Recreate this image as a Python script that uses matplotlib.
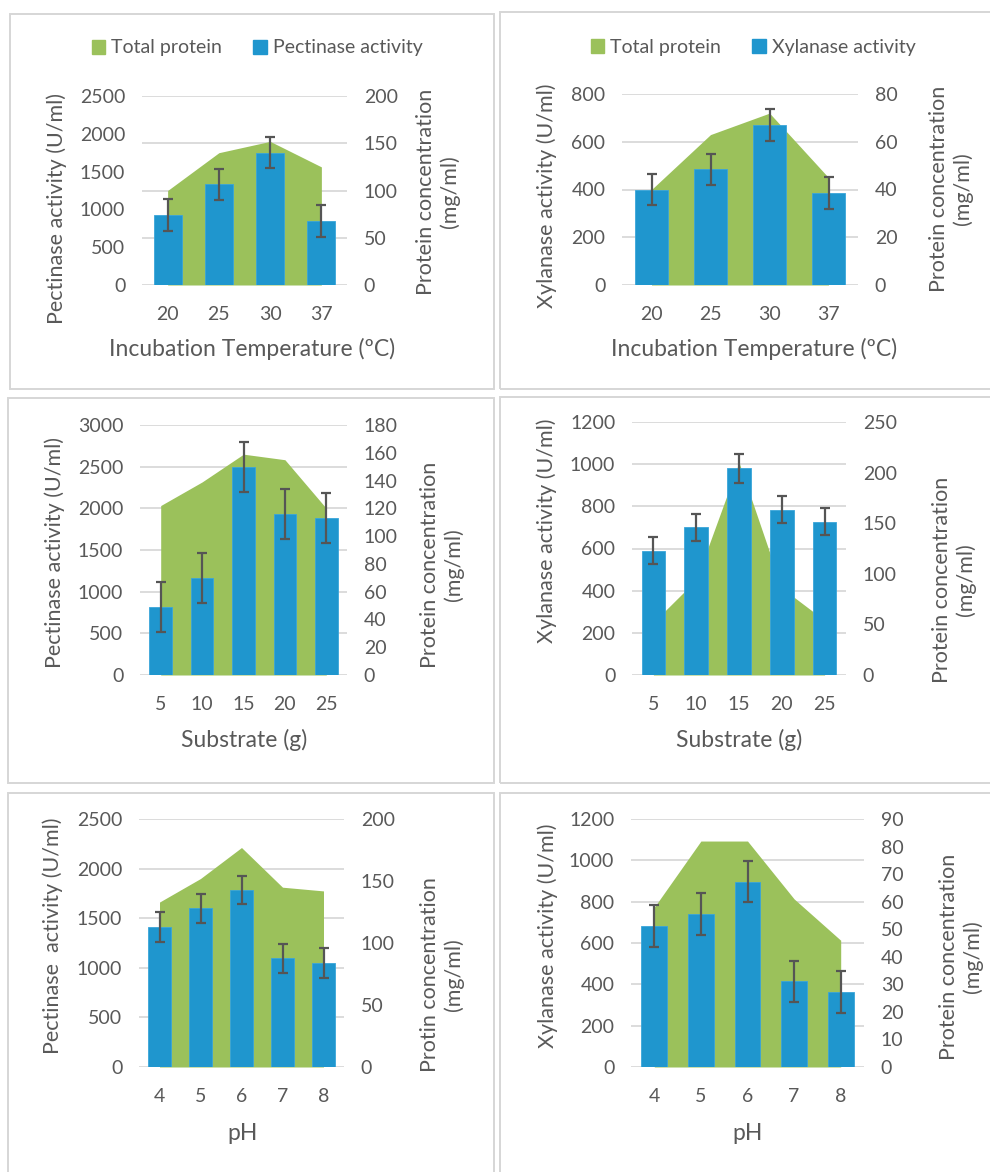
import numpy as np
import matplotlib.pyplot as plt
from matplotlib.patches import Patch, Rectangle

plt.rcParams['font.family'] = ['Lato', 'DejaVu Sans']

W, H = 990, 1172
GREEN = '#9BC15B'
BLUE = '#1F96CE'
TXT = '#595959'
GRID = '#D9D9D9'
FS = 14        # tick labels / legend
FS_Y = 15.5    # vertical axis titles
FS_X = 16.5    # horizontal axis titles

# ---- data ----
temp = ['20', '25', '30', '37']
pect_temp = [925, 1330, 1750, 845]
pect_temp_err = [210, 210, 205, 210]
prot_pect_temp = [100, 140, 152, 125]

xyl_temp = [400, 485, 672, 385]
xyl_temp_err = [65, 65, 67, 67]
prot_xyl_temp = [40, 63, 72, 45]

substrate = ['5', '10', '15', '20', '25']
pect_sub = [820, 1160, 2500, 1935, 1885]
pect_sub_err = [300, 300, 300, 300, 300]
prot_pect_sub = [122, 139, 159, 155, 120]

xyl_sub = [590, 700, 980, 783, 728]
xyl_sub_err = [65, 66, 67, 64, 63]
prot_xyl_sub = [52, 94, 210, 86, 54]

ph = ['4', '5', '6', '7', '8']
pect_ph = [1410, 1600, 1785, 1095, 1050]
pect_ph_err = [148, 148, 140, 143, 148]
prot_pect_ph = [133, 152, 177, 145, 142]

xyl_ph = [683, 740, 896, 414, 364]
xyl_ph_err = [100, 101, 99, 101, 101]
prot_xyl_ph = [58, 82, 82, 61, 46]


def frac(x0, x1, y0, y1):
    return [x0 / W, 1 - y1 / H, (x1 - x0) / W, (y1 - y0) / H]


def clean(ax):
    for s in ax.spines.values():
        s.set_visible(False)
    ax.tick_params(length=0, colors=TXT, labelsize=FS, pad=12)


def panel(fig, box, cats, act, err, prot, lticks, rticks, grid_right=False):
    r = frac(*box)
    n = len(cats)
    x = np.arange(n)

    gax = fig.add_axes(r)
    gax.set_zorder(0)
    clean(gax)
    gt = rticks if grid_right else lticks
    gax.set_ylim(gt[0], gt[-1])
    gax.set_yticks(gt)
    gax.set_xticks([])
    gax.set_yticklabels([])
    gax.grid(axis='y', color=GRID, lw=1.3)
    gax.set_xlim(-0.5, n - 0.5)

    pax = fig.add_axes(r)
    pax.set_zorder(1)
    pax.patch.set_visible(False)
    clean(pax)
    pax.fill_between(x, prot, color=GREEN, lw=0)
    pax.set_xlim(-0.5, n - 0.5)
    pax.set_ylim(rticks[0], rticks[-1])
    pax.yaxis.tick_right()
    pax.set_yticks(rticks)
    pax.set_xticks([])

    aax = fig.add_axes(r)
    aax.set_zorder(2)
    aax.patch.set_visible(False)
    clean(aax)
    aax.bar(x, act, 0.55, color=BLUE, edgecolor='#3AA5DA', lw=0.6,
            yerr=err, error_kw=dict(ecolor='#555555', elinewidth=1.6,
                                    capsize=3.8, capthick=1.6))
    aax.set_xlim(-0.5, n - 0.5)
    aax.set_ylim(lticks[0], lticks[-1])
    aax.set_yticks(lticks)
    aax.set_xticks(x)
    aax.set_xticklabels(cats)
    aax.tick_params(axis='x', pad=15)
    return aax


def label(fig, x, y, s, rot=0):
    fig.text(x / W, 1 - y / H, s, rotation=rot, ha='center', va='center',
             color=TXT, fontsize=FS_Y if rot else FS_X,
             multialignment='center', linespacing=1.15)


fig = plt.figure(figsize=(9.9, 11.72), dpi=100)

# panel borders
for bx in [(10, 14, 494, 389), (500, 12, 992, 389), (8, 398, 494, 783),
           (500, 397, 992, 783), (8, 793, 494, 1176), (500, 793, 992, 1176)]:
    fig.patches.append(Rectangle((bx[0] / W, 1 - bx[3] / H), (bx[2] - bx[0]) / W,
                                 (bx[3] - bx[1]) / H, transform=fig.transFigure,
                                 fill=False, ec='#D6D6D6', lw=1.4))

# row 1: incubation temperature
panel(fig, (142, 347, 96, 285), temp, pect_temp, pect_temp_err, prot_pect_temp,
      np.arange(0, 2501, 500), np.arange(0, 201, 50), grid_right=True)
label(fig, 57, 209, 'Pectinase activity (U/ml)', 90)
label(fig, 438, 192, 'Protein concentration\n(mg/ml)', 90)
label(fig, 252, 349, 'Incubation Temperature (ºC)')

panel(fig, (622, 858, 94, 285), temp, xyl_temp, xyl_temp_err, prot_xyl_temp,
      np.arange(0, 801, 200), np.arange(0, 81, 20))
label(fig, 547, 196, 'Xylanase activity (U/ml)', 90)
label(fig, 951, 189, 'Protein concentration\n(mg/ml)', 90)
label(fig, 754, 349, 'Incubation Temperature (ºC)')

leg_kw = dict(ncol=2, frameon=False, fontsize=FS, handlelength=0.7, handleheight=0.7,
              handletextpad=0.3, columnspacing=1.6, labelcolor=TXT, loc='center')
fig.legend(handles=[Patch(color=GREEN, label='Total protein'),
                    Patch(color=BLUE, label='Pectinase activity')],
           bbox_to_anchor=(257 / W, 1 - 48 / H), **leg_kw)
fig.legend(handles=[Patch(color=GREEN, label='Total protein'),
                    Patch(color=BLUE, label='Xylanase activity')],
           bbox_to_anchor=(753 / W, 1 - 47 / H), **leg_kw)

# row 2: substrate
panel(fig, (140, 347, 425, 675), substrate, pect_sub, pect_sub_err, prot_pect_sub,
      np.arange(0, 3001, 500), np.arange(0, 181, 20))
label(fig, 55, 552, 'Pectinase activity (U/ml)', 90)
label(fig, 442, 565, 'Protein concentration\n(mg/ml)', 90)
label(fig, 244, 740, 'Substrate (g)')

panel(fig, (632, 846, 422, 675), substrate, xyl_sub, xyl_sub_err, prot_xyl_sub,
      np.arange(0, 1201, 200), np.arange(0, 251, 50))
label(fig, 547, 531, 'Xylanase activity (U/ml)', 90)
label(fig, 954, 580, 'Protein concentration\n(mg/ml)', 90)
label(fig, 739, 740, 'Substrate (g)')

# row 3: pH
panel(fig, (139, 344, 819, 1067), ph, pect_ph, pect_ph_err, prot_pect_ph,
      np.arange(0, 2501, 500), np.arange(0, 201, 50))
label(fig, 53, 936, 'Pectinase  activity (U/ml)', 90)
label(fig, 442, 975, 'Protin concentration\n(mg/ml)', 90)
label(fig, 243, 1133, 'pH')

panel(fig, (631, 864, 819, 1067), ph, xyl_ph, xyl_ph_err, prot_xyl_ph,
      np.arange(0, 1201, 200), np.arange(0, 91, 10))
label(fig, 548, 936, 'Xylanase activity (U/ml)', 90)
label(fig, 961, 957, 'Protein concentration\n(mg/ml)', 90)
label(fig, 748, 1133, 'pH')

fig.savefig('out.png', dpi=100)
